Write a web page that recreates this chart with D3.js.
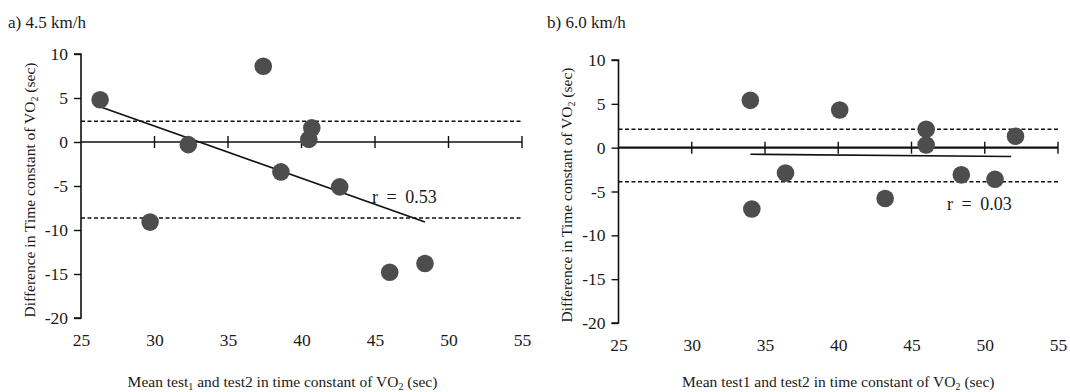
<!DOCTYPE html>
<html>
<head>
<meta charset="utf-8">
<script src="https://cdn.jsdelivr.net/npm/d3@7"></script>
<style>
  body { margin: 0; background: #fff; }
  text { font-family: "Liberation Serif", "Times New Roman", serif; fill: #1a1a1a; }
</style>
</head>
<body>
<svg id="chart" width="1070" height="392"></svg>
<script>
// tick values shared by both panels
const xTicks = [25, 30, 35, 40, 45, 50, 55];
const yTicks = [10, 5, 0, -5, -10, -15, -20];

// a) 4.5 km/h
const meanA = [26.3, 29.7, 32.3, 37.4, 38.6, 40.5, 40.7, 42.6, 46.0, 48.4];
const diffA = [4.8, -9.1, -0.3, 8.6, -3.4, 0.3, 1.6, -5.1, -14.8, -13.8];
const limitsA = [2.35, -8.65];
const fitXA = [26.3, 48.4];
const fitYA = [4.0, -9.1];

// b) 6.0 km/h
const meanB = [34.0, 34.1, 36.4, 40.1, 43.2, 46.0, 46.0, 48.4, 50.7, 52.1];
const diffB = [5.4, -7.0, -2.9, 4.3, -5.8, 2.1, 0.3, -3.1, -3.6, 1.3];
const limitsB = [2.1, -3.9];
const fitXB = [34.0, 51.8];
const fitYB = [-0.75, -1.0];

const svg = d3.select("#chart");

// draw one Bland-Altman panel
function drawPanel(p) {
  const x = d3.scaleLinear().domain([25, 55]).range(p.xRange);
  const y = d3.scaleLinear().domain([-20, 10]).range(p.yRange);
  const g = svg.append("g");

  // panel title
  g.append("text")
    .attr("x", p.titleX).attr("y", p.titleY)
    .attr("font-size", 17)
    .text(p.title);

  // limits of agreement (dashed)
  g.selectAll(".lim")
    .data(p.limits)
    .enter().append("line")
    .attr("x1", x(25)).attr("x2", x(55))
    .attr("y1", d => y(d)).attr("y2", d => y(d))
    .attr("stroke", "#111")
    .attr("stroke-width", 1.5)
    .attr("stroke-dasharray", "4,2.5");

  // y axis
  const yAxis = d3.axisLeft(y).tickValues(yTicks).tickSize(7).tickPadding(6)
    .tickFormat(d => String(d));
  const ya = g.append("g")
    .attr("transform", `translate(${x(25)},0)`)
    .call(yAxis);
  ya.select(".domain").attr("stroke", "#111").attr("stroke-width", 1.6)
    .attr("d", `M-7,${y(10)}H0V${y(-20)}H-7`);
  ya.selectAll(".tick line").attr("stroke", "#111").attr("stroke-width", 1.4);
  ya.selectAll(".tick text").attr("font-size", 17.5).attr("font-family", "Liberation Serif").attr("fill", "#1a1a1a");

  // zero line with crossing ticks
  g.append("line")
    .attr("x1", x(25)).attr("x2", x(55))
    .attr("y1", y(0)).attr("y2", y(0))
    .attr("stroke", "#111").attr("stroke-width", p.zeroWidth);
  g.selectAll(".xt")
    .data(xTicks.slice(1))
    .enter().append("line")
    .attr("x1", d => x(d)).attr("x2", d => x(d))
    .attr("y1", y(0) - 6).attr("y2", y(0) + 6)
    .attr("stroke", "#111").attr("stroke-width", 1.4);

  // x tick labels at the bottom
  const xAxis = d3.axisBottom(x).tickValues(xTicks).tickSize(0).tickPadding(16)
    .tickFormat(d => String(d));
  const xa = g.append("g")
    .attr("transform", `translate(0,${y(-20)})`)
    .call(xAxis);
  xa.select(".domain").remove();
  xa.selectAll(".tick text").attr("font-size", 17.5).attr("font-family", "Liberation Serif").attr("fill", "#1a1a1a");

  // regression line
  g.append("line")
    .attr("x1", x(p.fitX[0])).attr("y1", y(p.fitY[0]))
    .attr("x2", x(p.fitX[1])).attr("y2", y(p.fitY[1]))
    .attr("stroke", "#111").attr("stroke-width", 1.6);

  // points
  g.selectAll(".pt")
    .data(p.mean.map((m, i) => [m, p.diff[i]]))
    .enter().append("circle")
    .attr("cx", d => x(d[0])).attr("cy", d => y(d[1]))
    .attr("r", 8.8)
    .attr("fill", "#4d4d4d");

  // r label
  g.append("text")
    .attr("x", p.rX).attr("y", p.rY)
    .attr("font-size", 18)
    .attr("word-spacing", 4)
    .text(p.rText);

  // x title
  const xt = g.append("text")
    .attr("x", (x(25) + x(55)) / 2 + p.xTitleShift).attr("y", 387)
    .attr("text-anchor", "middle")
    .attr("font-size", 15.5);
  xt.append("tspan").text(p.xTitleA);
  if (p.sub1) {
    xt.append("tspan").attr("font-size", 10).attr("dy", 3).text("1");
    xt.append("tspan").attr("dy", -3).text(" and test2 in time constant of VO");
  }
  xt.append("tspan").attr("font-size", 10).attr("dy", 3).text("2");
  xt.append("tspan").attr("dy", -3).text(" (sec)");

  // y title
  const yt = g.append("text")
    .attr("transform", `translate(${p.yTitleX},${p.yTitleY}) rotate(-90)`)
    .attr("text-anchor", "middle")
    .attr("font-size", 15.5);
  yt.append("tspan").text("Difference in Time constant of VO");
  yt.append("tspan").attr("font-size", 10).attr("dy", 3).text("2");
  yt.append("tspan").attr("dy", -3).text(" (sec)");
}

drawPanel({
  title: "a) 4.5 km/h", titleX: 8, titleY: 28,
  xRange: [81, 522], yRange: [318, 54],
  mean: meanA, diff: diffA, limits: limitsA, fitX: fitXA, fitY: fitYA,
  rText: "r = 0.53", rX: 372, rY: 203,
  zeroWidth: 1.3,
  xTitleA: "Mean test", sub1: true, xTitleShift: -19,
  yTitleX: 35, yTitleY: 190
});

drawPanel({
  title: "b) 6.0 km/h", titleX: 547, titleY: 28,
  xRange: [618.5, 1058], yRange: [323, 60],
  mean: meanB, diff: diffB, limits: limitsB, fitX: fitXB, fitY: fitYB,
  rText: "r = 0.03", rX: 947, rY: 210,
  zeroWidth: 2.2,
  xTitleA: "Mean test1 and test2 in time constant of VO", sub1: false, xTitleShift: 0,
  yTitleX: 572, yTitleY: 195
});
</script>
</body>
</html>
